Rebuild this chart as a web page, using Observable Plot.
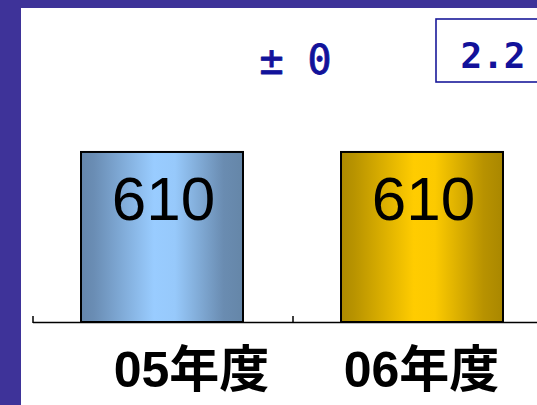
<!DOCTYPE html>
<html>
<head>
<meta charset="utf-8">
<script src="https://cdn.jsdelivr.net/npm/d3@7"></script>
<script src="https://cdn.jsdelivr.net/npm/@observablehq/plot@0.6"></script>
<style>
html, body { margin: 0; padding: 0; background: #3e3399; }
#frame { position: relative; width: 537px; height: 405px; overflow: hidden; background: #3e3399; }
#chart { position: absolute; left: 21px; top: 8px; width: 516px; height: 397px; background: #ffffff; overflow: hidden; }
#chart svg { display: block; max-width: none !important; width: 532px; height: 397px; }
</style>
</head>
<body>
<div id="frame"><div id="chart"></div></div>
<script>
// ---- data ----
const categories = ["05年度", "06年度"];
const values = [610, 610];
const ratioLabel = "2.2";

const data = categories.map((c, i) => ({category: c, value: values[i]}));
const diff = values[1] - values[0];
const changeLabel = diff === 0 ? "± 0" : (diff > 0 ? "+" + diff : String(diff));

// ---- styles ----
const gradientFor = {[categories[0]]: "url(#g05)", [categories[1]]: "url(#g06)"};
const blueText = "#12129a";
const latin = "'Liberation Sans', Arial, sans-serif";
const labelFont = "'Liberation Sans', 'Noto Sans CJK JP', sans-serif";
const mono = "'DejaVu Sans Mono', monospace";

const defs = () => {
  const d = d3.create("svg:defs");
  const add = (id, stops) => {
    const g = d.append("linearGradient").attr("id", id)
      .attr("x1", "0").attr("x2", "1").attr("y1", "0").attr("y2", "0");
    stops.forEach(([o, c]) => g.append("stop").attr("offset", o).attr("stop-color", c));
  };
  add("g05", [[0, "#6586ab"], [0.08, "#6a8db4"], [0.45, "#99ccff"], [0.58, "#97c9fb"], [0.88, "#6a8cb1"], [1, "#6586a8"]]);
  add("g06", [[0, "#ad8a00"], [0.08, "#b89300"], [0.45, "#ffcc00"], [0.58, "#fcca00"], [0.88, "#b89200"], [1, "#a98700"]]);
  return d.node();
};

const ticks = (index, {x, y}) => {
  const g = d3.create("svg:g").attr("stroke", "#000").attr("stroke-width", 1.5);
  const step = x(categories[1]) - x(categories[0]);
  const xs = categories.map(c => x(c)).concat([x(categories[categories.length - 1]) + step]);
  const y0 = y(0);
  xs.forEach(v => g.append("line").attr("x1", v).attr("x2", v).attr("y1", y0 + 1).attr("y2", y0 - 6));
  return g.node();
};

const ratioBox = (index, {x}, values, dims) => {
  const left = x(categories[1]) + 143;
  return d3.create("svg:rect")
    .attr("x", left).attr("y", dims.marginTop - 80)
    .attr("width", 150).attr("height", 63)
    .attr("fill", "#fff").attr("stroke", "#1a1a9a").attr("stroke-width", 1.6)
    .node();
};

const chart = Plot.plot({
  width: 532,
  height: 397,
  marginLeft: 12,
  marginRight: 0,
  marginTop: 91,
  marginBottom: 83,
  style: {background: "transparent", overflow: "hidden", maxWidth: "none"},
  x: {domain: categories, padding: 0, axis: null},
  y: {domain: [0, 800], axis: null},
  color: {type: "identity"},
  marks: [
    defs,
    Plot.barY(data, {
      x: "category", y: "value",
      fill: d => gradientFor[d.category],
      stroke: "#000", strokeWidth: 2,
      insetLeft: 48, insetRight: 50
    }),
    Plot.ruleY([0], {stroke: "#000", strokeWidth: 1.5}),
    ticks,
    Plot.text(data, {
      x: "category", y: "value", text: d => String(d.value),
      dy: 48, lineAnchor: "middle",
      fontSize: 62, fontFamily: latin, fill: "#000"
    }),
    Plot.text([categories[0]], {
      x: d => d, text: d => d, frameAnchor: "bottom",
      dx: 28, dy: 64, lineAnchor: "bottom",
      fontSize: 50, fontWeight: "bold", fontFamily: labelFont, fill: "#000"
    }),
    Plot.text([categories[1]], {
      x: d => d, text: d => d, frameAnchor: "bottom",
      dx: -2, dy: 64, lineAnchor: "bottom",
      fontSize: 50, fontWeight: "bold", fontFamily: labelFont, fill: "#000"
    }),
    Plot.text([changeLabel], {
      x: () => categories[1], text: d => d, frameAnchor: "top",
      dx: -128, dy: -26, lineAnchor: "bottom", textAnchor: "middle",
      fontSize: 40, fontFamily: mono, fill: blueText,
      stroke: blueText, strokeWidth: 0.8
    }),
    ratioBox,
    Plot.text([ratioLabel], {
      x: () => categories[1], text: d => d, frameAnchor: "top",
      dx: 37, dy: -32, lineAnchor: "bottom", textAnchor: "start",
      fontSize: 36, fontWeight: "bold", fontFamily: mono, fill: blueText
    })
  ]
});

document.getElementById("chart").appendChild(chart);
</script>
</body>
</html>
